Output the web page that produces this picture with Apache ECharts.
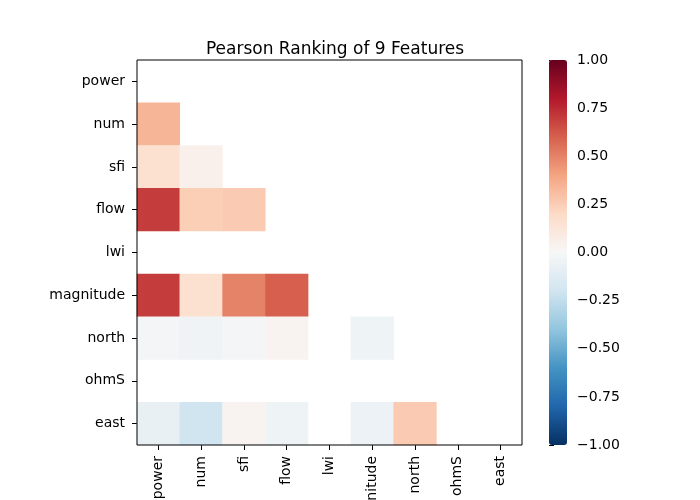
<!DOCTYPE html>
<html>
<head>
<meta charset="utf-8">
<script src="https://cdn.jsdelivr.net/npm/echarts@6/dist/echarts.min.js"></script>
<style>
  html, body { margin: 0; padding: 0; background: #fff; }
  #main { width: 700px; height: 500px; }
</style>
</head>
<body>
<div id="main"></div>
<script>
// feature names (same order on both axes)
const features = ['power', 'num', 'sfi', 'flow', 'lwi', 'magnitude', 'north', 'ohmS', 'east'];

// lower triangle of the Pearson matrix, one row per feature (null = masked / NaN)
const rowPower = [];
const rowNum = [0.34];
const rowSfi = [0.16, 0.05];
const rowFlow = [0.70, 0.25, 0.26];
const rowLwi = [null, null, null, null];
const rowMagnitude = [0.70, 0.16, 0.50, 0.60, null];
const rowNorth = [-0.02, -0.04, -0.02, 0.03, null, -0.05];
const rowOhmS = [null, null, null, null, null, null, null];
const rowEast = [-0.08, -0.20, 0.03, -0.05, null, -0.06, 0.26, null];

const rows = [rowPower, rowNum, rowSfi, rowFlow, rowLwi, rowMagnitude, rowNorth, rowOhmS, rowEast];

// colorbar ticks
const cbarMin = -1, cbarMax = 1, cbarStep = 0.25;

// RdBu_r
const rdbu = ['#053061', '#2166ac', '#4393c3', '#92c5de', '#d1e5f0', '#f7f7f7',
              '#fddbc7', '#f4a582', '#d6604d', '#b2182b', '#67001f'];

const cells = [];
rows.forEach(function (row, yi) {
    row.forEach(function (v, xi) {
        if (v !== null) cells.push([xi, yi, v]);
    });
});

const font = 'DejaVu Sans';

let option = {
    backgroundColor: '#fff',
    animation: false,
    title: {
        text: 'Pearson Ranking of 9 Features',
        left: 330,
        textAlign: 'center',
        top: 36,
        textStyle: { fontFamily: font, fontSize: 17, fontWeight: 'normal', color: '#000' }
    },
    grid: [
        { left: 137, top: 60, width: 385, height: 385, show: true, borderColor: '#000', borderWidth: 1,
          backgroundColor: 'transparent', containLabel: false, outerBoundsMode: 'none', z: 5 },
        { left: 549, top: 60, width: 18, height: 385, containLabel: false, outerBoundsMode: 'none' }
    ],
    xAxis: [
        {
            type: 'category', data: features, gridIndex: 0,
            axisLine: { show: false },
            axisTick: { show: true, alignWithLabel: true, length: 5, lineStyle: { color: '#000' } },
            axisLabel: { rotate: 90, margin: 11, color: '#000', fontFamily: font, fontSize: 14, interval: 0 },
            splitLine: { show: false }
        },
        { type: 'value', gridIndex: 1, show: false, min: 0, max: 1 }
    ],
    yAxis: [
        {
            type: 'category', data: features, inverse: true, gridIndex: 0,
            axisLine: { show: false },
            axisTick: { show: true, alignWithLabel: true, length: 5, lineStyle: { color: '#000' } },
            axisLabel: { margin: 12, color: '#000', fontFamily: font, fontSize: 14, interval: 0 },
            splitLine: { show: false }
        },
        {
            type: 'value', gridIndex: 1, position: 'right',
            min: cbarMin, max: cbarMax, interval: cbarStep,
            axisLine: { show: false },
            axisTick: { show: true, length: 5, lineStyle: { color: '#000' } },
            axisLabel: {
                margin: 10, color: '#000', fontFamily: font, fontSize: 14,
                formatter: function (v) { return v.toFixed(2).replace('-', '\u2212'); }
            },
            splitLine: { show: false }
        }
    ],
    visualMap: {
        type: 'continuous',
        seriesIndex: 0,
        min: cbarMin, max: cbarMax,
        calculable: false,
        hoverLink: false,
        orient: 'vertical',
        left: 549, top: 60,
        padding: 0,
        itemWidth: 18, itemHeight: 385,
        inRange: { color: rdbu }
    },
    series: [
        {
            type: 'heatmap',
            xAxisIndex: 0, yAxisIndex: 0,
            data: cells,
            emphasis: { disabled: true },
            itemStyle: { borderWidth: 0 }
        },
        {
            type: 'scatter', xAxisIndex: 1, yAxisIndex: 1, data: [], silent: true
        }
    ]
};

let myChart = echarts.init(document.getElementById('main'));
myChart.setOption(option);
</script>
</body>
</html>
